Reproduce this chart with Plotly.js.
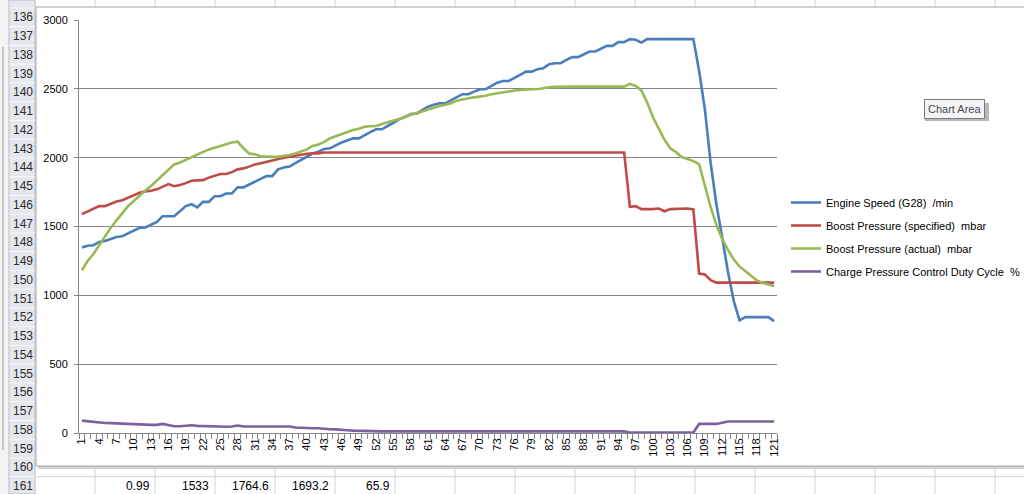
<!DOCTYPE html>
<html>
<head>
<meta charset="utf-8">
<script src="https://cdn.plot.ly/plotly-3.0.1.min.js"></script>
<style>
html,body{margin:0;padding:0;background:#ffffff;}
#chart{width:1024px;height:494px;}
</style>
</head>
<body>
<div id="chart"></div>
<script>
// ---- data ----
const samples = Array.from({length: 121}, (_, i) => i + 1);
const xTickVals = samples.filter(v => (v - 1) % 3 === 0);
const xTickText = xTickVals.map(String);
const yTickVals = [0, 500, 1000, 1500, 2000, 2500, 3000];

const seriesNames = [
  "Engine Speed (G28)  /min",
  "Boost Pressure (specified)  mbar",
  "Boost Pressure (actual)  mbar",
  "Charge Pressure Control Duty Cycle  %"
];

const engineSpeed = [
  1347,1360,1364,1388,1395,1410,1424,1429,1450,1473,
  1490,1493,1515,1534,1575,1575,1575,1610,1648,1662,
  1638,1679,1679,1720,1720,1740,1740,1784,1784,1805,
  1825,1845,1866,1866,1915,1929,1935,1960,1985,2005,
  2030,2043,2063,2068,2090,2110,2125,2140,2140,2165,
  2185,2206,2206,2230,2255,2279,2295,2317,2320,2345,
  2370,2385,2395,2395,2420,2440,2461,2461,2480,2497,
  2497,2520,2545,2557,2557,2580,2605,2625,2625,2643,
  2650,2679,2686,2686,2710,2730,2730,2750,2771,2771,
  2790,2812,2812,2839,2839,2861,2856,2836,2861,2861,
  2861,2861,2861,2861,2861,2861,2861,2630,2350,1960,
  1660,1420,1170,960,818,842,842,842,842,842,813
];

const boostSpecified = [
  1590,1610,1630,1648,1648,1668,1682,1691,1708,1725,
  1745,1755,1759,1770,1790,1808,1793,1801,1815,1832,
  1835,1837,1855,1870,1881,1881,1895,1915,1922,1935,
  1951,1960,1970,1982,1995,2000,2006,2015,2023,2028,
  2031,2031,2038,2038,2038,2038,2038,2038,2038,2038,
  2038,2038,2038,2038,2038,2038,2038,2038,2038,2038,
  2038,2038,2038,2038,2038,2038,2038,2038,2038,2038,
  2038,2038,2038,2038,2038,2038,2038,2038,2038,2038,
  2038,2038,2038,2038,2038,2038,2038,2038,2038,2038,
  2038,2038,2038,2038,2038,1643,1648,1626,1624,1626,
  1631,1611,1626,1626,1626,1631,1624,1158,1151,1110,
  1092,1092,1092,1092,1092,1092,1092,1092,1092,1092,1092
];

const boostActual = [
  1182,1250,1300,1365,1424,1490,1545,1600,1648,1685,
  1725,1762,1795,1835,1875,1915,1951,1965,1985,2005,
  2025,2040,2060,2072,2085,2100,2110,2116,2068,2030,
  2024,2010,2006,2006,2006,2012,2019,2030,2043,2060,
  2085,2095,2115,2140,2155,2170,2185,2201,2210,2225,
  2228,2230,2245,2260,2270,2279,2295,2312,2322,2335,
  2350,2365,2375,2385,2395,2414,2425,2432,2438,2443,
  2450,2460,2468,2475,2480,2488,2492,2496,2497,2497,
  2505,2512,2514,2516,2516,2516,2516,2516,2516,2516,
  2516,2516,2516,2516,2516,2536,2521,2487,2400,2293,
  2210,2130,2068,2040,2005,1990,1975,1953,1800,1640,
  1510,1410,1330,1260,1210,1175,1140,1109,1090,1080,1068
];

const dutyCycle = [
  90,85,83,76,73,72,71,66,66,65,
  63,61,59,59,66,55,49,49,52,56,
  52,50,50,49,46,45,47,54,47,47,
  47,47,47,47,47,47,47,40,37,36,
  35,34,28,27,26,25,20,17,15,13,
  12,12,12,12,12,12,12,12,12,12,
  12,12,12,12,12,12,12,12,12,12,
  12,12,12,12,12,12,12,12,12,12,
  12,12,12,12,12,12,12,12,12,12,
  12,12,12,12,12,3,3,3,3,3,
  3,3,3,3,3,3,3,66,66,66,
  66,75,83,83,83,83,83,83,83,83,83
];

const seriesColors = ["#4A7EBB", "#BE4B48", "#98B954", "#7D60A0"];

// spreadsheet surroundings
const rowNumbers = [136,137,138,139,140,141,142,143,144,145,146,147,148,149,150,151,152,153,154,155,156,157,158,159,160,161];
const row161Values = ["0.99", "1533", "1764.6", "1693.2", "65.9"];

// ---- layout geometry (pixels) ----
const W = 1024, H = 494;
const PL = 79, PR = 777, PT = 20, PB = 433;
const px = x => (x - PL) / (PR - PL);
const py = y => (PB - y) / (PB - PT);

const FONT = "Liberation Sans, Arial, sans-serif";

const allSeries = [engineSpeed, boostSpecified, boostActual, dutyCycle];
const traces = allSeries.map((vals, k) => ({
  type: "scatter",
  mode: "lines",
  x: samples,
  y: vals,
  name: seriesNames[k],
  legendgroup: "g" + k,
  line: {color: seriesColors[k], width: 2.6},
  hoverinfo: "skip"
}));

const shapes = [];
const annotations = [];

// spreadsheet cell grid
const rowH = 18.75, firstRowCenter = 17.3;
for (let k = -1; k <= rowNumbers.length; k++) {
  const yb = firstRowCenter + (k + 0.5) * rowH;
  shapes.push({type: "line", xref: "paper", yref: "paper", layer: "below",
    x0: px(35), x1: px(1024), y0: py(yb), y1: py(yb), line: {color: "#d4d4d4", width: 1}});
}
for (let xc = 95; xc < 1024; xc += 60) {
  shapes.push({type: "line", xref: "paper", yref: "paper", layer: "below",
    x0: px(xc), x1: px(xc), y0: py(0), y1: py(H), line: {color: "#d4d4d4", width: 1}});
}
// left pane strip
shapes.push({type: "rect", xref: "paper", yref: "paper", layer: "below",
  x0: px(0), x1: px(9), y0: py(0), y1: py(H), fillcolor: "#f3f3f3", line: {width: 0}});
shapes.push({type: "line", xref: "paper", yref: "paper", layer: "below",
  x0: px(3), x1: px(3), y0: py(47), y1: py(450), line: {color: "#9a9a9a", width: 1}});
// row header column
shapes.push({type: "rect", xref: "paper", yref: "paper", layer: "below",
  x0: px(9), x1: px(35), y0: py(0), y1: py(H), fillcolor: "#e4e8ee", line: {color: "#b8bcc2", width: 1}});
for (let k = -1; k <= rowNumbers.length; k++) {
  const yb = firstRowCenter + (k + 0.5) * rowH;
  shapes.push({type: "line", xref: "paper", yref: "paper", layer: "below",
    x0: px(9), x1: px(35), y0: py(yb), y1: py(yb), line: {color: "#f8f9fb", width: 1}});
}
// chart area shadow + box
shapes.push({type: "rect", xref: "paper", yref: "paper", layer: "below",
  x0: px(38), x1: px(1032), y0: py(9), y1: py(469), fillcolor: "#d0d0d0", line: {width: 0}});
shapes.push({type: "rect", xref: "paper", yref: "paper", layer: "below",
  x0: px(36), x1: px(1030), y0: py(7), y1: py(466), fillcolor: "#ffffff", line: {color: "#a6a6a6", width: 1}});
// tooltip shadow
shapes.push({type: "rect", xref: "paper", yref: "paper", layer: "above",
  x0: px(925), x1: px(989), y0: py(103), y1: py(121), fillcolor: "#b8b8b8", line: {width: 0}});

rowNumbers.forEach((r, k) => {
  annotations.push({xref: "paper", yref: "paper", x: px(22.5), y: py(firstRowCenter + k * rowH),
    text: String(r), showarrow: false, xanchor: "center", yanchor: "middle",
    font: {family: FONT, size: 12, color: "#2b2b2b"}});
});
const valueRightEdges = [152, 211, 271, 331, 392];
row161Values.forEach((v, k) => {
  annotations.push({xref: "paper", yref: "paper", x: px(valueRightEdges[k]), y: py(firstRowCenter + 25 * rowH),
    text: v, showarrow: false, xanchor: "right", yanchor: "middle",
    font: {family: FONT, size: 12, color: "#000000"}});
});
annotations.push({xref: "paper", yref: "paper", x: px(954), y: py(109), text: "Chart Area",
  showarrow: false, xanchor: "center", yanchor: "middle",
  bgcolor: "#f4f4f8", bordercolor: "#7a7a7a", borderwidth: 1, borderpad: 3,
  font: {family: FONT, size: 11, color: "#4a4a4a"}});

const layout = {
  width: W, height: H,
  margin: {l: PL, r: W - PR, t: PT, b: H - PB, pad: 0, autoexpand: false},
  paper_bgcolor: "#ffffff",
  plot_bgcolor: "rgba(0,0,0,0)",
  font: {family: FONT, size: 11, color: "#000000"},
  showlegend: true,
  legend: {xref: "container", yref: "container", x: 786 / W, y: 1 - 188 / H,
    xanchor: "left", yanchor: "top",
    bgcolor: "rgba(0,0,0,0)", borderwidth: 0, tracegroupgap: 4,
    font: {family: FONT, size: 11, color: "#000000"}},
  xaxis: {
    type: "linear", range: [0.5, 121.5], fixedrange: true,
    tickmode: "array", tickvals: xTickVals, ticktext: xTickText,
    tickangle: -90, ticks: "", showgrid: false, zeroline: false,
    showline: true, linecolor: "#868686", linewidth: 1,
    tickfont: {family: FONT, size: 11, color: "#000000"},
    minor: {tickmode: "linear", tick0: 0.5, dtick: 1, ticks: "outside", ticklen: 5,
      tickcolor: "#868686", tickwidth: 1, showgrid: false}
  },
  yaxis: {
    range: [0, 3000], fixedrange: true,
    tickmode: "array", tickvals: yTickVals, ticktext: yTickVals.map(String),
    ticks: "outside", ticklen: 4, tickcolor: "#868686",
    showgrid: true, gridcolor: "#868686", gridwidth: 1, zeroline: false,
    showline: true, linecolor: "#868686", linewidth: 1,
    ticklabelstandoff: 4,
    tickfont: {family: FONT, size: 11, color: "#000000"}
  },
  shapes: shapes,
  annotations: annotations
};

Plotly.newPlot("chart", traces, layout, {displayModeBar: false, staticPlot: true});
</script>
</body>
</html>
